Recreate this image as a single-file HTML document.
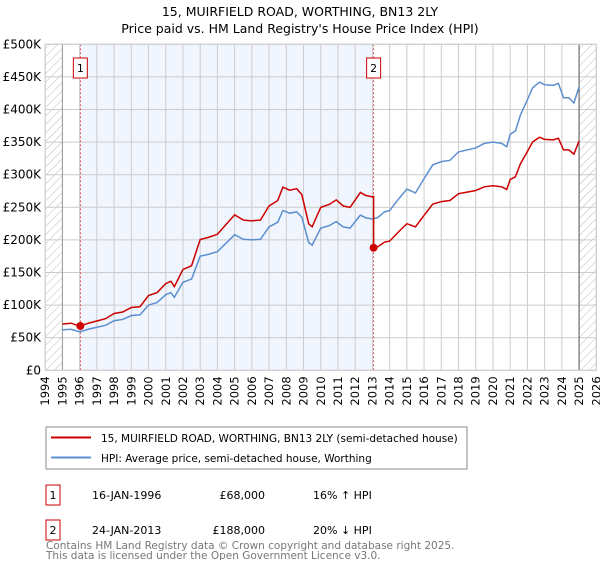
<!DOCTYPE html>
<html><head><meta charset="utf-8"><style>
body{margin:0;background:#fff;font-family:"DejaVu Sans","Liberation Sans",sans-serif;}
svg text{font-family:"DejaVu Sans","Liberation Sans",sans-serif;}
</style></head><body>
<svg id="c" width="600" height="560" xmlns="http://www.w3.org/2000/svg">
<defs><pattern id="h" width="6" height="6" patternUnits="userSpaceOnUse" patternTransform="rotate(45)"><line x1="0" y1="0" x2="0" y2="6" stroke="#bbb" stroke-width="1"/></pattern></defs>
<text x="300" y="16" text-anchor="middle" font-size="12.5">15, MUIRFIELD ROAD, WORTHING, BN13 2LY</text>
<text x="300" y="33" text-anchor="middle" font-size="12.5">Price paid vs. HM Land Registry's House Price Index (HPI)</text>
<g id="plot"></g>
<g>
<rect x="46" y="427" width="421" height="42" fill="#fff" stroke="#888"/>
<line x1="51" y1="437.5" x2="91" y2="437.5" stroke="#cc0000" stroke-width="2"/>
<text x="101" y="442" font-size="10.5">15, MUIRFIELD ROAD, WORTHING, BN13 2LY (semi-detached house)</text>
<line x1="51" y1="457.5" x2="91" y2="457.5" stroke="#5b8fd0" stroke-width="2"/>
<text x="101" y="462" font-size="10.5">HPI: Average price, semi-detached house, Worthing</text>
</g>
<g font-size="11">
<rect x="46" y="485" width="14" height="20" fill="#fff" stroke="#cc0000"/><text x="53" y="499" text-anchor="middle">1</text>
<text x="92" y="499">16-JAN-1996</text>
<text x="265" y="499" text-anchor="end">£68,000</text>
<text x="313" y="499">16% ↑ HPI</text>
<rect x="46" y="520" width="14" height="20" fill="#fff" stroke="#cc0000"/><text x="53" y="534" text-anchor="middle">2</text>
<text x="92" y="534">24-JAN-2013</text>
<text x="265" y="534" text-anchor="end">£188,000</text>
<text x="313" y="534">20% ↓ HPI</text>
</g>
<text x="46" y="549" font-size="10.5" fill="#777">Contains HM Land Registry data © Crown copyright and database right 2025.</text>
<text x="46" y="559" font-size="10.5" fill="#777">This data is licensed under the Open Government Licence v3.0.</text>
</svg>
<script>
const yTicks=[0,50,100,150,200,250,300,350,400,450,500];
const yTickLabels=["£0","£50K","£100K","£150K","£200K","£250K","£300K","£350K","£400K","£450K","£500K"];
const hpiYears=[1995,1995.5,1996,1996.5,1997,1997.5,1998,1998.5,1999,1999.5,2000,2000.5,2001,2001.3,2001.5,2002,2002.5,2003,2003.5,2004,2004.5,2005,2005.5,2006,2006.5,2007,2007.5,2007.8,2008.2,2008.6,2008.9,2009.3,2009.5,2010,2010.5,2010.9,2011.3,2011.7,2012,2012.3,2012.6,2013,2013.3,2013.7,2014,2014.5,2015,2015.5,2016,2016.5,2017,2017.5,2018,2018.5,2019,2019.5,2020,2020.5,2020.8,2021,2021.3,2021.6,2022,2022.3,2022.7,2023,2023.5,2023.8,2024.1,2024.4,2024.7,2025];
const hpiValues=[62,63,59,63,66,69,76,78,84,85,100,104,116,119,112,135,140,175,178,182,195,208,201,200,201,220,227,245,241,243,235,196,192,218,222,228,220,218,228,238,234,232,234,243,245,262,278,272,294,315,320,322,335,338,341,348,350,348,343,362,367,392,415,433,442,438,437,440,418,418,410,435];
const saleYears=[1996.04,2013.07];
const salePrices=[68,188];
const xMin=1994,xMax=2026,x0=45.2,x1=596.3,yTop=44.3,yBot=370.3;
const X=v=>x0+(v-xMin)/(xMax-xMin)*(x1-x0);
const Y=v=>yBot-v/500*(yBot-yTop);
const NS="http://www.w3.org/2000/svg";
const g=document.getElementById('plot');
function mk(t,a){const e=document.createElementNS(NS,t);for(const k in a)e.setAttribute(k,a[k]);g.appendChild(e);return e;}
function hpiAt(t){for(let i=0;i<hpiYears.length-1;i++){if(t>=hpiYears[i]&&t<=hpiYears[i+1]){const f=(t-hpiYears[i])/(hpiYears[i+1]-hpiYears[i]);return hpiValues[i]+f*(hpiValues[i+1]-hpiValues[i]);}}return t<hpiYears[0]?hpiValues[0]:hpiValues[hpiValues.length-1];}
let e;
e=mk('rect',{x:X(1994),y:yTop,width:X(1995)-X(1994),height:yBot-yTop,fill:'url(#h)'});

e=mk('rect',{x:X(2025),y:yTop,width:X(2026)-X(2025),height:yBot-yTop,fill:'url(#h)'});

e=mk('rect',{x:X(saleYears[0]),y:yTop,width:X(saleYears[1])-X(saleYears[0]),height:yBot-yTop,fill:'#eef3fd',opacity:0.8});

for(let yr=1994;yr<=2026;yr++){
 e=mk('line',{x1:X(yr),x2:X(yr),y1:yTop,y2:yBot,stroke:'#ccc','stroke-width':1});
 
 e=mk('text',{x:0,y:0,transform:`translate(${X(yr)+4},${yBot+6}) rotate(-90)`,'text-anchor':'end','font-size':11.5});
 e.textContent=yr;
 
}
yTicks.forEach((v,i)=>{
 e=mk('line',{x1:x0,x2:x1,y1:Y(v),y2:Y(v),stroke:'#ccc','stroke-width':1});
 
 e=mk('text',{x:41,y:Y(v)+4,'text-anchor':'end','font-size':12});
 e.textContent=yTickLabels[i];
 
});
e=mk('line',{x1:X(1995),x2:X(1995),y1:yTop,y2:yBot,stroke:'#999'});
e=mk('line',{x1:X(2025),x2:X(2025),y1:yTop,y2:yBot,stroke:'#555'});
saleYears.forEach((t,i)=>{
 e=mk('line',{x1:X(t),x2:X(t),y1:yTop,y2:yBot,stroke:'#e03030','stroke-dasharray':'2,2','stroke-width':0.8});
 
 e=mk('rect',{x:X(t)-7,y:58,width:14,height:20,fill:'#fff',stroke:'#cc0000'});
 
 e=mk('text',{x:X(t),y:72,'text-anchor':'middle','font-size':11});e.textContent=String(i+1);
 
});
e=mk('polyline',{points:hpiYears.map((t,i)=>X(t)+','+Y(hpiValues[i])).join(' '),fill:'none',stroke:'#5b8fd0','stroke-width':1.5});

let pts=[];let switched=false;
hpiYears.forEach((t,i)=>{
 let k=t<saleYears[1]?0:1;
 let v=salePrices[k]*hpiValues[i]/hpiAt(saleYears[k]);
 if(k===1&&!switched){pts.push(X(saleYears[1])+','+Y(salePrices[0]*hpiAt(saleYears[1])/hpiAt(saleYears[0])));pts.push(X(saleYears[1])+','+Y(salePrices[1]));switched=true;}
 pts.push(X(t)+','+Y(v));
});
e=mk('polyline',{points:pts.join(' '),fill:'none',stroke:'#cc0000','stroke-width':1.5});

saleYears.forEach((t,i)=>{
 e=mk('circle',{cx:X(t),cy:Y(salePrices[i]),r:4,fill:'#cc0000'});
 
});
e=mk('rect',{x:x0,y:yTop,width:x1-x0,height:yBot-yTop,fill:'none',stroke:'#ccc'});

</script>
</body></html>
